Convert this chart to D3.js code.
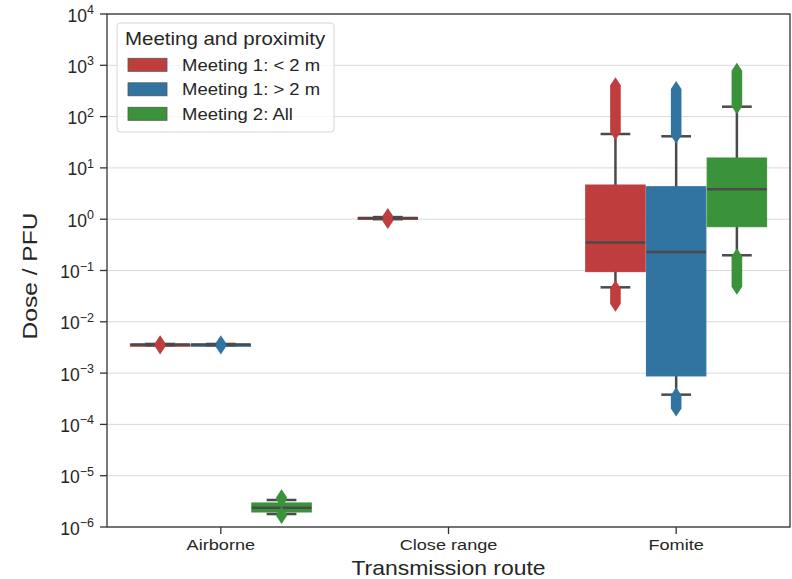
<!DOCTYPE html>
<html lang="en">
<head>
<meta charset="utf-8">
<title>Dose by transmission route</title>
<script src="https://cdn.jsdelivr.net/npm/d3@7"></script>
<style>
body { margin: 0; background: #fff; }
text { font-family: "Liberation Sans", Arial, sans-serif; fill: #262626; }
.grid line { stroke: #d9d9d9; stroke-width: 1; }
</style>
</head>
<body>
<script>
// categories and groups
var routes = ["Airborne", "Close range", "Fomite"];
var groups = ["Meeting 1: < 2 m", "Meeting 1: > 2 m", "Meeting 2: All"];
var colors = ["#c03d3e", "#3274a1", "#3a923a"];
var yTicks = [-6, -5, -4, -3, -2, -1, 0, 1, 2, 3, 4];

// box statistics, one entry per drawn box
var boxRoute  = ["Airborne", "Airborne", "Airborne", "Close range", "Fomite", "Fomite", "Fomite"];
var boxGroup  = [0, 1, 2, 0, 0, 1, 2];
var whisLo    = [3.50e-3, 3.50e-3, 1.79e-6, 1.00, 0.047, 3.8e-4, 0.198];
var q1        = [3.57e-3, 3.57e-3, 1.96e-6, 1.03, 0.095, 8.8e-4, 0.714];
var median    = [3.60e-3, 3.60e-3, 2.38e-6, 1.05, 0.352, 0.230, 3.83];
var q3        = [3.65e-3, 3.65e-3, 2.94e-6, 1.08, 4.64, 4.30, 15.6];
var whisHi    = [3.70e-3, 3.70e-3, 3.36e-6, 1.10, 45.8, 41.3, 156];
// range of outlier values below and above the whiskers
var fliersLow  = [[3.30e-3, 3.48e-3], [3.30e-3, 3.48e-3], [1.64e-6, 1.75e-6], [0.92, 0.98], [0.0225, 0.045], [2.05e-4, 3.7e-4], [0.048, 0.19]];
var fliersHigh = [[3.72e-3, 3.80e-3], [3.72e-3, 3.80e-3], [3.45e-6, 3.79e-6], [1.12, 1.16], [50, 407], [43, 345], [160, 785]];

var W = 792, H = 579;
var m = {left: 107, right: 790, top: 14, bottom: 527};
var sx = 1.17; // the figure's lettering is a little wider than Arial

var svg = d3.select("body").append("svg")
    .attr("width", W)
    .attr("height", H);

var y = d3.scaleLog().domain([1e-6, 1e4]).range([m.bottom, m.top]);
var x = d3.scaleBand().domain(routes).range([m.left, m.right])
    .paddingInner(0.2).paddingOuter(0.1);
var xh = d3.scaleBand().domain(d3.range(groups.length)).range([0, x.bandwidth()]);

// grid
svg.append("g").attr("class", "grid")
    .selectAll("line").data(yTicks).enter().append("line")
    .attr("x1", m.left).attr("x2", m.right)
    .attr("y1", function(d){ return y(Math.pow(10, d)); })
    .attr("y2", function(d){ return y(Math.pow(10, d)); });

// y axis ticks and labels
var yAxis = svg.append("g");
yAxis.selectAll("line").data(yTicks).enter().append("line")
    .attr("x1", m.left - 7).attr("x2", m.left)
    .attr("y1", function(d){ return y(Math.pow(10, d)); })
    .attr("y2", function(d){ return y(Math.pow(10, d)); })
    .attr("stroke", "#333").attr("stroke-width", 1.3);
var yl = yAxis.selectAll("text").data(yTicks).enter().append("text")
    .attr("x", m.left - 13)
    .attr("y", function(d){ return y(Math.pow(10, d)) + 7.5; })
    .attr("text-anchor", "end")
    .style("font-size", "17.5px");
yl.append("tspan").text("10");
yl.append("tspan").attr("dy", -7.5).style("font-size", "12.5px")
    .text(function(d){ return d < 0 ? "\u2212" + Math.abs(d) : d; });

// x axis ticks and labels
var xAxis = svg.append("g");
xAxis.selectAll("line").data(routes).enter().append("line")
    .attr("x1", function(d){ return x(d) + x.bandwidth() / 2; })
    .attr("x2", function(d){ return x(d) + x.bandwidth() / 2; })
    .attr("y1", m.bottom).attr("y2", m.bottom + 7)
    .attr("stroke", "#333").attr("stroke-width", 1.3);
xAxis.selectAll("g").data(routes).enter().append("g")
    .attr("transform", function(d){
        return "translate(" + (x(d) + x.bandwidth() / 2) + "," + (m.bottom + 23) + ") scale(" + sx + ",1)";
    })
    .append("text")
    .attr("text-anchor", "middle")
    .style("font-size", "15.5px")
    .text(function(d){ return d; });

// axis titles
svg.append("text")
    .attr("transform", "translate(37,276) rotate(-90) scale(" + sx + ",1)")
    .attr("text-anchor", "middle")
    .style("font-size", "21px")
    .text("Dose / PFU");
svg.append("text")
    .attr("transform", "translate(" + ((m.left + m.right) / 2) + ",575) scale(1.12,1)")
    .attr("text-anchor", "middle")
    .style("font-size", "20.5px")
    .text("Transmission route");

// boxes
var rows = boxRoute.map(function(r, i){
    return {route: r, g: boxGroup[i], lo: whisLo[i], q1: q1[i], med: median[i],
            q3: q3[i], hi: whisHi[i], fl: fliersLow[i], fh: fliersHigh[i]};
});
var boxW = xh.bandwidth() * 0.98;
var lineCol = "#4a4a4a";
var dw = 5.3, dh = 8; // flier marker half sizes

function flierPath(cx, a, b) {
    var top = y(b), bot = y(a);
    return "M" + cx + "," + (top - dh) + "L" + (cx + dw) + "," + top +
        "L" + (cx + dw) + "," + bot + "L" + cx + "," + (bot + dh) +
        "L" + (cx - dw) + "," + bot + "L" + (cx - dw) + "," + top + "Z";
}

var boxes = svg.append("g").selectAll("g").data(rows).enter().append("g")
    .attr("transform", function(d){
        return "translate(" + (x(d.route) + xh(d.g) + xh.bandwidth() / 2) + ",0)";
    });

boxes.append("line")
    .attr("y1", function(d){ return y(d.hi); }).attr("y2", function(d){ return y(d.lo); })
    .attr("stroke", lineCol).attr("stroke-width", 2.5);
boxes.append("rect")
    .attr("x", -boxW / 2).attr("width", boxW)
    .attr("y", function(d){ return y(d.q3); })
    .attr("height", function(d){ return Math.max(2, y(d.q1) - y(d.q3)); })
    .attr("fill", function(d){ return colors[d.g]; })
    .attr("stroke", function(d){ return colors[d.g]; })
    .attr("stroke-width", 1);
boxes.selectAll(".cap").data(function(d){ return [d.lo, d.hi]; }).enter().append("line")
    .attr("x1", -boxW / 4).attr("x2", boxW / 4)
    .attr("y1", function(v){ return y(v); }).attr("y2", function(v){ return y(v); })
    .attr("stroke", lineCol).attr("stroke-width", 2.5);
boxes.append("line")
    .attr("x1", -boxW / 2).attr("x2", boxW / 2)
    .attr("y1", function(d){ return y(d.med); }).attr("y2", function(d){ return y(d.med); })
    .attr("stroke", lineCol).attr("stroke-width", 2.5);
boxes.selectAll(".flier").data(function(d){ return [[d.fl, d.g], [d.fh, d.g]]; }).enter()
    .append("path")
    .attr("d", function(p){ return flierPath(0, p[0][0], p[0][1]); })
    .attr("fill", function(p){ return colors[p[1]]; });

// frame
svg.append("rect")
    .attr("x", m.left).attr("y", m.top)
    .attr("width", m.right - m.left).attr("height", m.bottom - m.top)
    .attr("fill", "none").attr("stroke", "#333").attr("stroke-width", 1.3);

// legend
var lg = svg.append("g").attr("transform", "translate(117,23)");
lg.append("rect").attr("width", 217).attr("height", 109).attr("rx", 3)
    .attr("fill", "#fff").attr("fill-opacity", 0.8)
    .attr("stroke", "#d6d6d6").attr("stroke-width", 1);
lg.append("text")
    .attr("transform", "translate(8,21.5) scale(" + sx + ",1)")
    .style("font-size", "17.5px")
    .text("Meeting and proximity");
var li = lg.selectAll(".item").data(groups).enter().append("g")
    .attr("transform", function(d, i){ return "translate(11," + (35.3 + i * 24.5) + ")"; });
li.append("rect").attr("width", 39).attr("height", 13)
    .attr("fill", function(d, i){ return colors[i]; })
    .attr("stroke", "#555").attr("stroke-width", 0.8);
li.append("text")
    .attr("transform", "translate(54,12.4) scale(" + sx + ",1)")
    .style("font-size", "15.8px")
    .text(function(d){ return d; });
</script>
</body>
</html>
